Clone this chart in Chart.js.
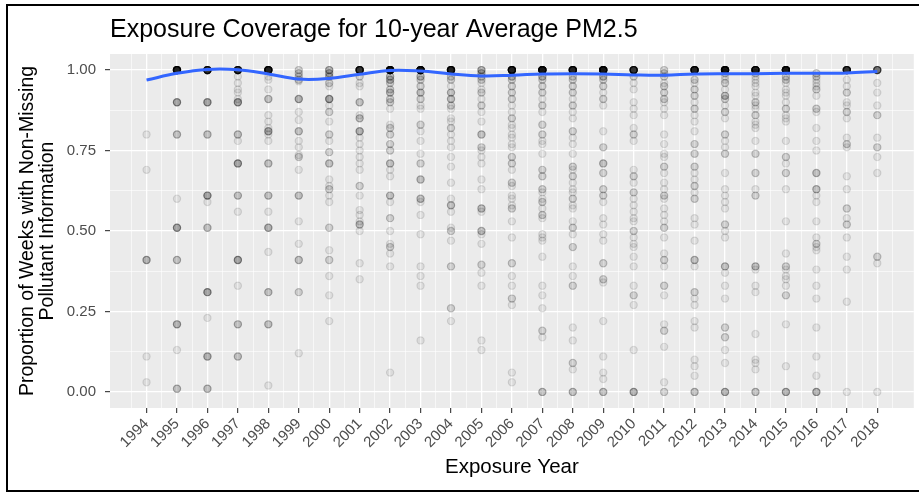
<!DOCTYPE html>
<html>
<head>
<meta charset="utf-8">
<script src="https://cdn.jsdelivr.net/npm/chart.js@4.4.1/dist/chart.umd.min.js"></script>
<style>
  html, body { margin: 0; padding: 0; background: #fff; }
  #wrap { position: relative; width: 919px; height: 493px; overflow: hidden; }
  #frame { position: absolute; left: 6px; top: 4px; width: 960px; height: 488px;
           border: 2px solid #000; box-sizing: border-box; pointer-events: none; }
</style>
</head>
<body>
<div id="wrap">
  <canvas id="chart" width="919" height="493"></canvas>
  <div id="frame"></div>
</div>
<script>
const rep = (v, n) => Array(n).fill(v);

// exposure years and how many subjects sit exactly at full coverage (1.00)
const years = [1994, 1995, 1996, 1997, 1998, 1999, 2000, 2001, 2002, 2003, 2004, 2005,
               2006, 2007, 2008, 2009, 2010, 2011, 2012, 2013, 2014, 2015, 2016, 2017, 2018];
const fullCount = [0, 25, 20, 20, 25, 2, 4, 20, 30, 30, 25, 4,
                   25, 30, 25, 30, 20, 2, 25, 30, 25, 30, 0, 20, 10];

// remaining (below 1.00) proportions per year
const p1994 = [0.80, 0.69, ...rep(0.41, 4), 0.11, 0.03];
const p1995 = [...rep(0.90, 5), ...rep(0.80, 3), 0.60, ...rep(0.51, 5), ...rep(0.41, 3), ...rep(0.21, 4), 0.13, ...rep(0.01, 3)];
const p1996 = [...rep(0.90, 5), ...rep(0.80, 3), ...rep(0.61, 5), 0.59, ...rep(0.51, 3), ...rep(0.31, 5), 0.23, ...rep(0.11, 4), ...rep(0.01, 3)];
const p1997 = [0.98, 0.96, 0.94, 0.93, 0.91, ...rep(0.90, 5), ...rep(0.80, 3), 0.78, ...rep(0.71, 5), ...rep(0.61, 3), 0.56, ...rep(0.41, 5), 0.33, ...rep(0.21, 3), ...rep(0.11, 3)];
const p1998 = [0.98, 0.97, 0.94, ...rep(0.91, 3), 0.86, 0.84, 0.82, ...rep(0.81, 4), 0.80, 0.78, ...rep(0.71, 3), ...rep(0.61, 3), 0.56, ...rep(0.51, 4), 0.435, ...rep(0.31, 3), ...rep(0.21, 3), 0.02];
const p1999 = [...rep(0.99, 2), ...rep(0.98, 2), ...rep(0.97, 2), 0.965, ...rep(0.91, 4), 0.87, 0.845, ...rep(0.81, 3), 0.78, 0.76, 0.736, ...rep(0.73, 2), 0.69, ...rep(0.61, 3), 0.53, 0.46, ...rep(0.41, 3), ...rep(0.31, 2), 0.12];
const p2000 = [...rep(0.99, 3), ...rep(0.98, 3), ...rep(0.96, 2), 0.95, ...rep(0.91, 5), 0.89, ...rep(0.87, 2), 0.84, ...rep(0.80, 2), 0.78, ...rep(0.745, 2), ...rep(0.71, 3), 0.66, 0.64, ...rep(0.63, 2), 0.61, 0.59, ...rep(0.51, 2), 0.44, ...rep(0.41, 2), 0.36, 0.30, 0.22];
const p2001 = [...rep(0.98, 2), 0.96, 0.95, ...rep(0.90, 3), 0.86, ...rep(0.85, 3), ...rep(0.81, 4), 0.79, 0.77, 0.75, 0.73, 0.71, 0.69, ...rep(0.64, 2), 0.61, 0.565, 0.55, 0.53, ...rep(0.52, 3), 0.50, 0.40, 0.35];
const p2002 = [...rep(0.98, 3), ...rep(0.97, 3), ...rep(0.96, 2), ...rep(0.94, 2), ...rep(0.93, 3), ...rep(0.91, 2), ...rep(0.90, 2), 0.88, 0.83, ...rep(0.82, 2), ...rep(0.80, 2), ...rep(0.77, 2), ...rep(0.75, 2), ...rep(0.71, 3), 0.69, 0.67, ...rep(0.61, 3), 0.59, ...rep(0.54, 2), 0.50, 0.46, ...rep(0.45, 2), 0.43, 0.39, 0.06];
const p2003 = [...rep(0.98, 3), ...rep(0.97, 2), ...rep(0.95, 2), ...rep(0.93, 3), ...rep(0.91, 2), 0.89, 0.88, ...rep(0.83, 2), 0.81, 0.78, 0.74, ...rep(0.71, 2), ...rep(0.66, 3), ...rep(0.60, 3), 0.59, 0.55, 0.49, 0.39, 0.36, 0.33, 0.16];
const p2004 = [...rep(0.98, 2), ...rep(0.97, 2), 0.95, ...rep(0.93, 3), ...rep(0.91, 3), ...rep(0.89, 2), 0.88, 0.85, 0.84, ...rep(0.82, 2), 0.80, 0.78, 0.76, 0.73, 0.70, 0.65, 0.60, ...rep(0.58, 3), 0.56, 0.51, ...rep(0.50, 2), 0.47, ...rep(0.39, 2), ...rep(0.26, 2), 0.22];
const p2005 = [...rep(0.99, 3), ...rep(0.98, 2), ...rep(0.97, 2), 0.96, 0.94, ...rep(0.93, 2), 0.91, ...rep(0.89, 2), 0.87, 0.84, ...rep(0.80, 3), ...rep(0.76, 2), 0.75, 0.73, 0.71, 0.66, 0.63, ...rep(0.57, 3), 0.56, ...rep(0.50, 3), 0.49, 0.46, ...rep(0.395, 2), 0.37, 0.33, 0.16, 0.13];
const p2006 = [...rep(0.98, 3), ...rep(0.97, 2), ...rep(0.95, 2), ...rep(0.93, 2), ...rep(0.91, 2), 0.89, 0.87, ...rep(0.85, 2), 0.83, 0.82, 0.80, 0.79, 0.77, 0.76, ...rep(0.73, 2), ...rep(0.71, 2), 0.69, ...rep(0.65, 2), 0.64, 0.61, 0.60, 0.58, ...rep(0.57, 2), 0.53, 0.48, ...rep(0.40, 2), 0.36, 0.33, ...rep(0.29, 2), 0.27, 0.06, 0.03];
const p2007 = [...rep(0.98, 3), ...rep(0.97, 2), ...rep(0.95, 2), ...rep(0.93, 2), 0.91, ...rep(0.89, 2), 0.87, ...rep(0.83, 2), ...rep(0.80, 2), 0.78, 0.77, 0.74, ...rep(0.69, 2), ...rep(0.67, 2), ...rep(0.63, 2), 0.62, 0.60, ...rep(0.59, 2), 0.57, ...rep(0.55, 2), 0.54, 0.49, 0.48, 0.47, 0.42, 0.33, 0.30, 0.26, ...rep(0.19, 2), 0.17, ...rep(0, 3)];
const p2008 = [...rep(0.98, 2), ...rep(0.97, 2), ...rep(0.95, 2), ...rep(0.93, 2), 0.91, ...rep(0.89, 2), 0.87, 0.85, ...rep(0.81, 2), 0.79, 0.77, 0.74, ...rep(0.70, 2), 0.69, ...rep(0.67, 2), 0.65, 0.63, 0.62, ...rep(0.60, 2), 0.58, 0.57, 0.53, ...rep(0.51, 2), 0.49, ...rep(0.45, 2), 0.39, 0.36, ...rep(0.33, 2), 0.20, 0.16, ...rep(0.09, 2), 0.07, ...rep(0, 3)];
const p2009 = [...rep(0.98, 3), ...rep(0.97, 2), ...rep(0.95, 2), 0.93, ...rep(0.91, 2), 0.89, 0.81, ...rep(0.76, 2), ...rep(0.71, 3), ...rep(0.68, 2), ...rep(0.63, 2), ...rep(0.61, 2), 0.59, 0.54, 0.52, 0.49, 0.47, ...rep(0.40, 2), ...rep(0.35, 2), 0.34, 0.22, 0.11, 0.06, 0.04, ...rep(0, 3)];
const p2010 = [...rep(0.98, 2), 0.96, 0.94, 0.90, 0.88, 0.86, 0.82, ...rep(0.80, 2), 0.78, 0.69, ...rep(0.67, 2), 0.65, ...rep(0.62, 2), 0.60, 0.58, 0.56, 0.54, 0.53, ...rep(0.50, 2), 0.48, 0.46, 0.45, 0.42, 0.39, 0.33, ...rep(0.30, 2), 0.27, 0.13, ...rep(0, 4)];
const p2011 = [...rep(0.99, 2), ...rep(0.98, 2), 0.96, ...rep(0.95, 2), ...rep(0.93, 2), ...rep(0.91, 2), 0.90, 0.88, 0.86, 0.80, 0.77, 0.74, 0.73, ...rep(0.70, 2), 0.68, 0.65, 0.63, ...rep(0.61, 2), 0.60, 0.57, 0.55, 0.53, ...rep(0.51, 2), 0.48, 0.43, ...rep(0.41, 2), 0.39, ...rep(0.33, 2), 0.30, 0.21, ...rep(0.19, 2), 0.14, 0.03, ...rep(0, 2)];
const p2012 = [...rep(0.97, 2), 0.96, ...rep(0.94, 2), ...rep(0.92, 2), 0.90, ...rep(0.88, 2), 0.86, 0.84, 0.81, ...rep(0.77, 2), ...rep(0.74, 2), ...rep(0.70, 2), 0.68, 0.66, ...rep(0.64, 2), 0.62, ...rep(0.60, 2), 0.54, 0.52, 0.47, ...rep(0.41, 3), 0.39, ...rep(0.31, 2), 0.29, 0.27, 0.22, 0.20, 0.10, 0.08, 0.05, ...rep(0, 3)];
const p2013 = [...rep(0.99, 2), 0.98, 0.97, ...rep(0.96, 2), 0.94, ...rep(0.92, 3), ...rep(0.91, 2), 0.89, ...rep(0.87, 2), 0.85, ...rep(0.80, 2), 0.78, 0.76, ...rep(0.74, 2), 0.68, 0.63, 0.61, 0.59, 0.57, ...rep(0.52, 2), 0.50, 0.48, ...rep(0.39, 3), 0.37, 0.33, 0.29, ...rep(0.20, 2), ...rep(0.17, 2), 0.13, 0.09, ...rep(0, 4)];
const p2014 = [...rep(0.99, 2), 0.98, 0.97, 0.96, 0.95, 0.93, 0.92, ...rep(0.90, 2), 0.89, 0.88, ...rep(0.86, 2), 0.84, 0.83, 0.82, 0.78, ...rep(0.74, 2), ...rep(0.68, 2), 0.63, ...rep(0.61, 2), ...rep(0.39, 3), 0.38, 0.33, 0.31, 0.18, 0.10, 0.09, 0.07, ...rep(0, 3)];
const p2015 = [...rep(0.98, 2), ...rep(0.97, 2), 0.96, 0.94, 0.93, 0.92, 0.90, ...rep(0.88, 2), 0.86, 0.85, 0.84, 0.78, ...rep(0.73, 2), 0.71, ...rep(0.68, 2), 0.63, 0.53, 0.43, ...rep(0.39, 2), 0.38, 0.36, 0.35, 0.33, ...rep(0.30, 2), 0.21, 0.08, ...rep(0, 4)];
const p2016 = [...rep(0.99, 2), ...rep(0.98, 2), 0.97, 0.96, 0.95, ...rep(0.94, 2), 0.92, ...rep(0.88, 2), 0.87, 0.82, 0.78, 0.75, ...rep(0.68, 3), ...rep(0.63, 3), 0.61, 0.59, 0.53, 0.48, ...rep(0.46, 2), 0.45, 0.44, 0.38, 0.33, 0.29, 0.20, 0.11, 0.05, ...rep(0, 4)];
const p2017 = [0.97, 0.95, ...rep(0.93, 2), 0.90, 0.89, ...rep(0.87, 2), 0.85, 0.79, ...rep(0.77, 2), 0.76, 0.67, 0.63, ...rep(0.57, 2), 0.54, ...rep(0.52, 2), 0.48, 0.42, 0.38, 0.28, 0];
const p2018 = [0.96, 0.93, 0.89, ...rep(0.86, 2), 0.79, ...rep(0.76, 2), 0.73, 0.68, ...rep(0.42, 2), 0.40, 0];
const partials = [p1994, p1995, p1996, p1997, p1998, p1999, p2000, p2001, p2002, p2003, p2004, p2005,
                  p2006, p2007, p2008, p2009, p2010, p2011, p2012, p2013, p2014, p2015, p2016, p2017, p2018];

// loess smooth
const smoothY = [0.969, 0.990, 1.002, 1.001, 0.988, 0.972, 0.974, 0.987, 0.999, 0.997, 0.988, 0.982,
                 0.984, 0.988, 0.989, 0.988, 0.985, 0.984, 0.988, 0.989, 0.989, 0.990, 0.990, 0.991, 0.996];

const yTicks = [0, 0.25, 0.5, 0.75, 1];

// build point list
const points = [];
years.forEach((yr, i) => {
  rep(1, fullCount[i]).concat(partials[i]).forEach(v => points.push({ x: yr, y: v }));
});
const smoothPts = years.map((yr, i) => ({ x: yr, y: smoothY[i] }));

// tick positions incl. minor (midway) breaks
const xGrid = [];
years.forEach(y => { xGrid.push(y - 0.5, y); });
xGrid.push(years[years.length - 1] + 0.5);
const yGrid = [];
yTicks.forEach((t, i) => { if (i > 0) yGrid.push(t - 0.125); yGrid.push(t); });

const FONT = "'Liberation Sans', Arial, Helvetica, sans-serif";
const isMajorX = v => Number.isInteger(v);
const isMajorY = v => yTicks.some(t => Math.abs(t - v) < 1e-9);

const panelBg = {
  id: 'panelBg',
  beforeDraw(chart) {
    const { ctx, chartArea: a } = chart;
    ctx.save();
    ctx.fillStyle = '#fff';
    ctx.fillRect(0, 0, chart.width, chart.height);
    ctx.fillStyle = '#EBEBEB';
    ctx.fillRect(a.left, a.top, a.right - a.left, a.bottom - a.top);
    ctx.restore();
  }
};

new Chart(document.getElementById('chart'), {
  type: 'scatter',
  data: {
    datasets: [
      {
        type: 'line',
        data: smoothPts,
        borderColor: '#3366FF',
        borderWidth: 3,
        pointRadius: 0,
        tension: 0.4,
        fill: false,
        order: 0
      },
      {
        data: points,
        backgroundColor: 'rgba(0,0,0,0.07)',
        borderColor: 'rgba(0,0,0,0.11)',
        borderWidth: 1.2,
        pointRadius: 3.6,
        order: 1
      }
    ]
  },
  options: {
    responsive: false,
    animation: false,
    events: [],
    layout: { padding: { left: 8, right: 1, top: 0, bottom: 3 } },
    plugins: {
      legend: { display: false },
      tooltip: { enabled: false },
      title: {
        display: true,
        text: 'Exposure Coverage for 10-year Average PM2.5',
        align: 'start',
        fullSize: false,
        color: '#000',
        font: { family: FONT, size: 25, weight: 'normal' },
        padding: { top: 15, bottom: 9 }
      }
    },
    scales: {
      x: {
        type: 'linear',
        min: 1992.8,
        max: 2019.2,
        afterBuildTicks: s => { s.ticks = xGrid.map(v => ({ value: v })); },
        afterFit: s => { s.height = 82; },
        border: { display: false },
        grid: {
          color: '#FFFFFF',
          lineWidth: c => isMajorX(c.tick.value) ? 1.3 : 0.6,
          drawTicks: true,
          tickLength: 5,
          tickWidth: 1.1,
          tickColor: c => isMajorX(c.tick.value) ? '#333333' : 'rgba(0,0,0,0)'
        },
        ticks: {
          autoSkip: false,
          minRotation: 45,
          maxRotation: 45,
          padding: 2,
          color: '#4D4D4D',
          font: { family: FONT, size: 15 },
          callback: v => isMajorX(v) ? String(v) : ''
        },
        title: {
          display: true,
          text: 'Exposure Year',
          color: '#000',
          font: { family: FONT, size: 20.5 },
          padding: { top: 0, bottom: 10 }
        }
      },
      y: {
        type: 'linear',
        min: -0.05,
        max: 1.05,
        afterBuildTicks: s => { s.ticks = yGrid.map(v => ({ value: v })); },
        afterFit: s => { s.width = 102; },
        border: { display: false },
        grid: {
          color: '#FFFFFF',
          lineWidth: c => isMajorY(c.tick.value) ? 1.3 : 0.6,
          drawTicks: true,
          tickLength: 5,
          tickWidth: 1.1,
          tickColor: c => isMajorY(c.tick.value) ? '#333333' : 'rgba(0,0,0,0)'
        },
        ticks: {
          padding: 9,
          color: '#4D4D4D',
          font: { family: FONT, size: 15 },
          callback: v => isMajorY(v) ? v.toFixed(2) : ''
        },
        title: {
          display: true,
          text: ['Proportion of Weeks with Non-Missing', 'Pollutant Information'],
          color: '#000',
          font: { family: FONT, size: 19.5, lineHeight: 1.0 },
          padding: { top: 10, bottom: 0 }
        }
      }
    }
  },
  plugins: [panelBg]
});
</script>
</body>
</html>
